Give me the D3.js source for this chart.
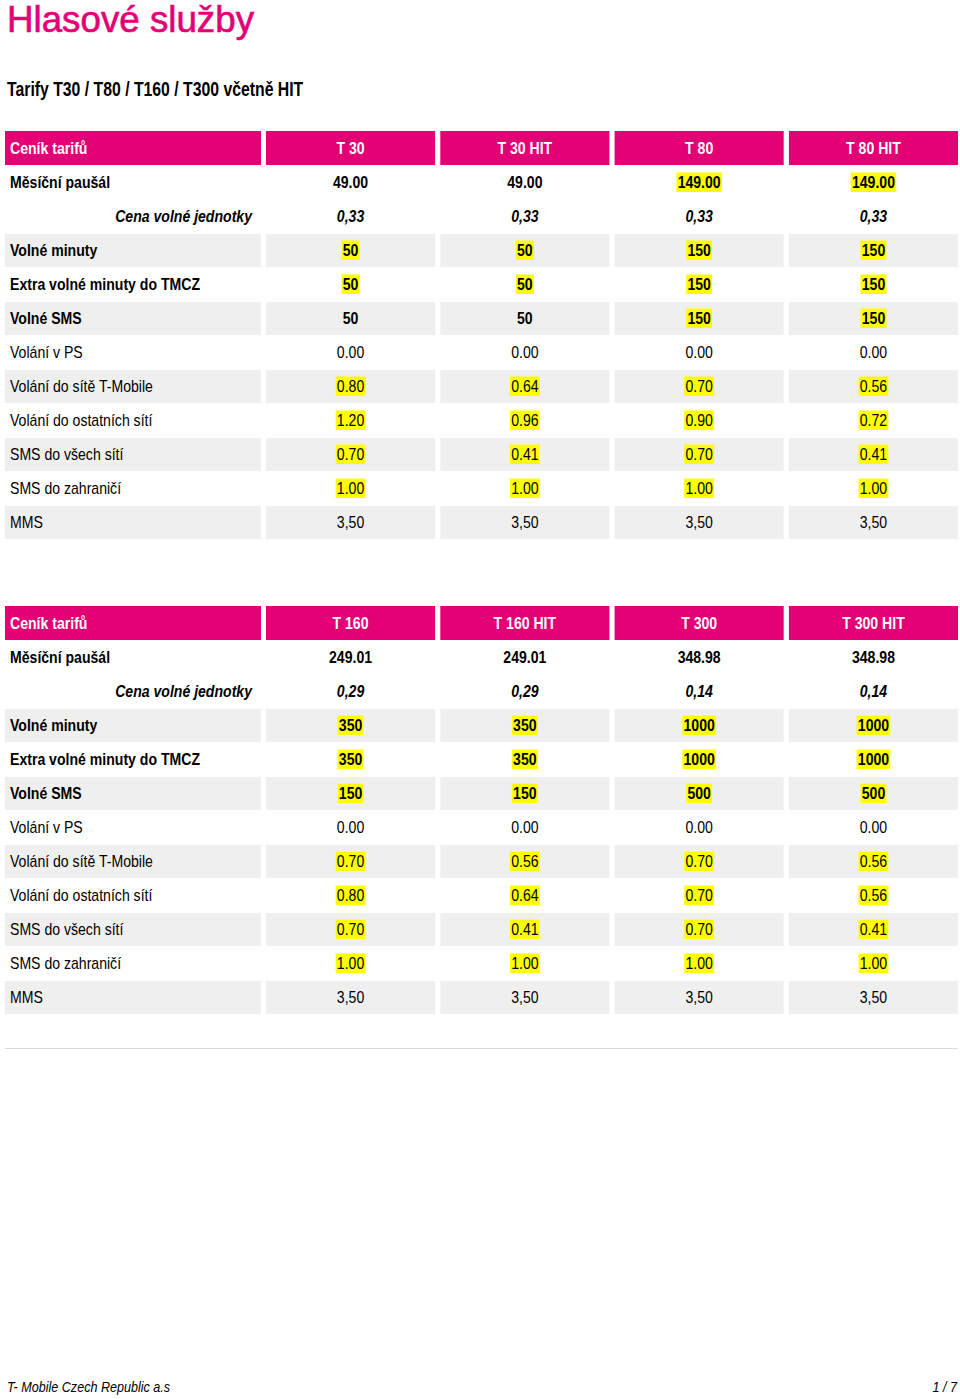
<!DOCTYPE html>
<html><head><meta charset="utf-8">
<script src="https://cdn.jsdelivr.net/npm/d3@7"></script>
<style>body{margin:0;background:#fff}</style>
</head><body>
<script>
const title = "Hlasové služby";
const subtitle = "Tarify T30 / T80 / T160 / T300 včetně HIT";
const cornerLabel = "Ceník tarifů";
const rowLabels = ["Měsíční paušál","Cena volné jednotky","Volné minuty","Extra volné minuty do TMCZ","Volné SMS","Volání v PS","Volání do sítě T-Mobile","Volání do ostatních sítí","SMS do všech sítí","SMS do zahraničí","MMS"];
const rowStyle = ["bold","bolditalic","bold","bold","bold","normal","normal","normal","normal","normal","normal"];
const rowShaded = [false,false,true,false,true,false,true,false,true,false,true];

const tariffs1 = ["T 30","T 30 HIT","T 80","T 80 HIT"];
const values1 = [
  ["49.00","49.00","149.00","149.00"],
  ["0,33","0,33","0,33","0,33"],
  ["50","50","150","150"],
  ["50","50","150","150"],
  ["50","50","150","150"],
  ["0.00","0.00","0.00","0.00"],
  ["0.80","0.64","0.70","0.56"],
  ["1.20","0.96","0.90","0.72"],
  ["0.70","0.41","0.70","0.41"],
  ["1.00","1.00","1.00","1.00"],
  ["3,50","3,50","3,50","3,50"]
];
const highlight1 = [
  [0,0,1,1],[0,0,0,0],[1,1,1,1],[1,1,1,1],[0,0,1,1],[0,0,0,0],
  [1,1,1,1],[1,1,1,1],[1,1,1,1],[1,1,1,1],[0,0,0,0]
];
const tariffs2 = ["T 160","T 160 HIT","T 300","T 300 HIT"];
const values2 = [
  ["249.01","249.01","348.98","348.98"],
  ["0,29","0,29","0,14","0,14"],
  ["350","350","1000","1000"],
  ["350","350","1000","1000"],
  ["150","150","500","500"],
  ["0.00","0.00","0.00","0.00"],
  ["0.70","0.56","0.70","0.56"],
  ["0.80","0.64","0.70","0.56"],
  ["0.70","0.41","0.70","0.41"],
  ["1.00","1.00","1.00","1.00"],
  ["3,50","3,50","3,50","3,50"]
];
const highlight2 = [
  [0,0,0,0],[0,0,0,0],[1,1,1,1],[1,1,1,1],[1,1,1,1],[0,0,0,0],
  [1,1,1,1],[1,1,1,1],[1,1,1,1],[1,1,1,1],[0,0,0,0]
];
const footerLeft = "T- Mobile Czech Republic a.s";
const footerRight = "1 / 7";

const W = 960, H = 1399;
const PINK = "#E20074", GRAY = "#efefef", YEL = "#ffff00";
const FONT = "'Liberation Sans',Arial,sans-serif";
const SX = 0.88; // condensed look

const svg = d3.select("body").append("svg").attr("width", W).attr("height", H)
  .style("font-family", FONT);

function ctext(parent, x, y, str, opts) {
  const sx = opts.sx || SX;
  const g = parent.append("g").attr("transform", `translate(${x},${y}) scale(${sx},1)`);
  const t = g.append("text").attr("x", 0).attr("y", 0).text(str)
    .attr("font-size", opts.size || 16)
    .attr("font-weight", opts.weight || "normal")
    .attr("font-style", opts.style || "normal")
    .attr("fill", opts.fill || "#000")
    .attr("text-anchor", opts.anchor || "start");
  if (opts.dy) t.attr("dy", opts.dy);
  return {g, t};
}

svg.append("text").attr("x", 7).attr("y", 32).text(title)
  .attr("fill", PINK).attr("stroke", PINK).attr("stroke-width", 0.6)
  .attr("font-size", 36).attr("textLength", 247).attr("lengthAdjust", "spacingAndGlyphs");
ctext(svg, 7, 96, subtitle, {size: 19.5, weight: "bold", sx: 0.81});

const labelX0 = 5, labelX1 = 261;
const x = d3.scaleBand().domain(d3.range(4)).range([266, 958]).paddingInner(0.03).paddingOuter(0);

function drawTable(top, tariffs, values, hl) {
  const g = svg.append("g");
  const headH = 34;
  const y = d3.scaleBand().domain(d3.range(rowLabels.length)).range([top + headH, top + headH + 34 * rowLabels.length]);
  g.append("rect").attr("x", labelX0).attr("y", top).attr("width", labelX1 - labelX0).attr("height", headH).attr("fill", PINK);
  ctext(g, 10, top + headH / 2, cornerLabel, {dy: "0.36em", fill: "#fff", weight: "bold"});
  tariffs.forEach((t, j) => {
    g.append("rect").attr("x", x(j)).attr("y", top).attr("width", x.bandwidth()).attr("height", headH).attr("fill", PINK);
    ctext(g, x(j) + x.bandwidth() / 2, top + headH / 2, t, {dy: "0.36em", fill: "#fff", weight: "bold", anchor: "middle"});
  });
  rowLabels.forEach((lab, i) => {
    const yc = y(i) + y.bandwidth() / 2;
    const st = rowStyle[i];
    const fw = st === "normal" ? "normal" : "bold";
    const fs = st === "bolditalic" ? "italic" : "normal";
    if (rowShaded[i]) {
      g.append("rect").attr("x", labelX0).attr("y", y(i) + 1).attr("width", labelX1 - labelX0).attr("height", y.bandwidth() - 1).attr("fill", GRAY);
    }
    if (st === "bolditalic") ctext(g, 252, yc, lab, {dy: "0.36em", weight: fw, style: fs, anchor: "end"});
    else ctext(g, 10, yc, lab, {dy: "0.36em", weight: fw, style: fs});
    values[i].forEach((v, j) => {
      if (rowShaded[i]) {
        g.append("rect").attr("x", x(j)).attr("y", y(i) + 1).attr("width", x.bandwidth()).attr("height", y.bandwidth() - 1).attr("fill", GRAY);
      }
      const c = ctext(g, x(j) + x.bandwidth() / 2, yc, v, {dy: "0.36em", weight: fw, style: fs, anchor: "middle"});
      if (hl[i][j]) {
        const b = c.t.node().getBBox();
        const pad = 1.2 / SX;
        c.g.insert("rect", "text").attr("x", b.x - pad).attr("y", -9.5).attr("width", b.width + 2 * pad).attr("height", 19.5).attr("fill", YEL);
      }
    });
  });
}
drawTable(131, tariffs1, values1, highlight1);
drawTable(606, tariffs2, values2, highlight2);

svg.append("line").attr("x1", 5).attr("x2", 958).attr("y1", 1048.5).attr("y2", 1048.5).attr("stroke", "#dcdcdc").attr("stroke-width", 1);

ctext(svg, 7, 1392, footerLeft, {size: 14, style: "italic", sx: 0.9});
ctext(svg, 957, 1392, footerRight, {size: 14, style: "italic", sx: 0.9, anchor: "end"});
</script>
</body></html>
